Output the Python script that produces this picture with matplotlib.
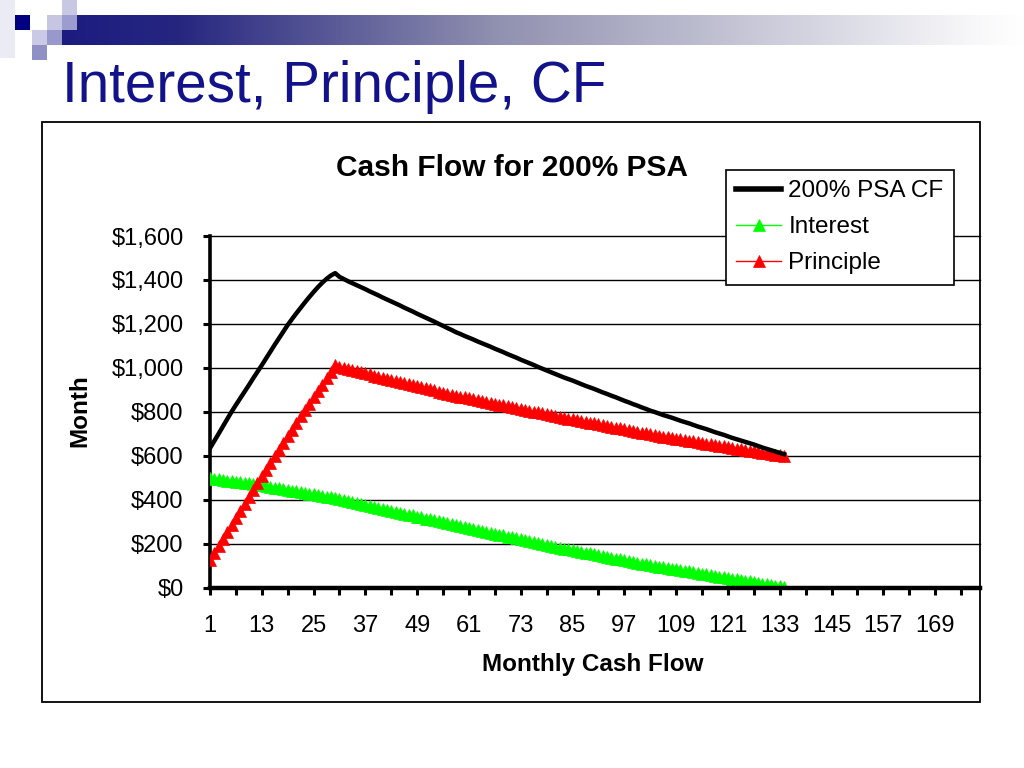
import matplotlib
matplotlib.use("Agg")
import matplotlib.pyplot as plt
from matplotlib.patches import Rectangle
from matplotlib.ticker import FuncFormatter, FixedLocator
import numpy as np

plt.rcParams["font.family"] = ["Liberation Sans", "DejaVu Sans"]

# ---------------------------------------------------------------------------
# Data ($ per month)
# ---------------------------------------------------------------------------
cash_flow = [
    634, 667, 700, 734, 767, 800, 831, 861, 891, 921, 952, 982, 1012, 1043, 1074,
    1105, 1135, 1165, 1195, 1222, 1248, 1273, 1298, 1322, 1345, 1367, 1387, 1405, 1420, 1431,
    1414, 1404, 1394, 1385, 1376, 1367, 1358, 1348, 1339, 1330, 1320, 1311, 1302, 1293,
    1284, 1274, 1265, 1256, 1246, 1237, 1228, 1219, 1210, 1200, 1191, 1181, 1172,
    1162, 1154, 1145, 1137, 1129, 1120, 1112, 1104, 1096, 1087, 1079, 1071, 1062, 1054,
    1046, 1037, 1029, 1021, 1013, 1004, 996, 988, 980, 972,
    964, 956, 949, 942, 934, 926, 918, 911, 904, 896, 888, 881, 873, 866, 858, 850,
    843, 835, 828, 820, 813, 805,
    799, 792, 785, 779, 773, 766, 759, 753, 747, 740, 733, 727, 721, 714, 707, 701,
    695, 688, 681, 675,
    669, 663, 657, 651, 644, 637, 631, 625, 619, 613, 607,
]
interest = [
    497, 495, 492, 490, 487, 485, 482, 480, 477, 474, 472, 469, 466, 462, 459,
    455, 452, 448, 445, 441, 438, 434, 431, 427, 424, 420, 417, 413, 410, 406,
    402, 398, 393, 389, 385, 380, 376, 371, 367, 363, 358, 354, 349, 345, 341,
    336, 332, 328, 323, 319, 314, 310, 306, 301, 297, 292, 288,
    284, 280, 275, 271, 267, 262, 258, 254, 250, 245, 241, 237, 232, 228, 224,
    219, 215, 211, 207, 202, 198, 194, 189, 185,
    181, 177, 174, 170, 166, 162, 158, 155, 151, 147, 143, 140, 136, 132, 128,
    124, 121, 117, 113, 109, 106, 102,
    99, 95, 92, 89, 86, 82, 79, 76, 73, 69, 66, 63, 60, 56, 53, 50, 47, 43, 40, 37,
    34, 31, 28, 25, 22, 18, 15, 12, 9, 6, 3,
]
principle = [
    125, 157, 189, 221, 253, 285, 317, 349, 381, 413, 445, 475, 506, 536, 567,
    597, 628, 658, 689, 719, 750, 779, 808, 837, 866, 895, 924, 953, 982, 1011,
    1004, 999, 994, 989, 985, 980, 975, 970, 965, 960, 955, 950, 946, 941, 936,
    931, 926, 921, 916, 911, 907, 902, 897, 892, 887, 882, 877,
    873, 869, 865, 861, 857, 853, 849, 845, 841, 837, 833, 829, 825, 821, 817,
    813, 809, 805, 801, 797, 793, 789, 785, 781,
    777, 773, 769, 766, 762, 758, 754, 750, 747, 743, 739, 735, 731, 728, 724,
    720, 716, 712, 709, 705, 701, 697,
    694, 691, 687, 684, 681, 678, 674, 671, 668, 665, 661, 658, 655, 652, 648,
    645, 642, 639, 635, 632,
    629, 626, 623, 620, 616, 613, 610, 607, 604, 601, 598,
]
months = list(range(1, len(cash_flow) + 1))

x_labels = [1, 13, 25, 37, 49, 61, 73, 85, 97, 109, 121, 133, 145, 157, 169]
x_minor = [7, 19, 31, 43, 55, 67, 79, 91, 103, 115, 127, 139, 151, 163, 175]
y_ticks = [0, 200, 400, 600, 800, 1000, 1200, 1400, 1600]

NAVY = "#12128a"

# ---------------------------------------------------------------------------
# Figure + slide decoration (pixel coordinates)
# ---------------------------------------------------------------------------
fig = plt.figure(figsize=(10.24, 7.68), dpi=100)
bg = fig.add_axes([0, 0, 1, 1], zorder=0)
bg.set_xlim(0, 1024)
bg.set_ylim(768, 0)
bg.axis("off")

# gradient bar: navy -> greyish lavender -> white
stops = np.array([0.0, 0.12, 0.45, 0.95, 1.0])
cols = np.array([[0x1c, 0x1c, 0x80], [0x26, 0x26, 0x80], [0x90, 0x90, 0xb0],
                 [0xf8, 0xf8, 0xfa], [0xff, 0xff, 0xff]]) / 255.0
g = np.linspace(0, 1, 512)
img = np.stack([np.interp(g, stops, cols[:, k]) for k in range(3)], axis=1)
bg.imshow(img[None, :, :], extent=(62, 1024, 45, 15), aspect="auto", zorder=1)

squares = [
    (0, 0, 15, 58, "#ebebf5"),
    (15, 15, 15, 15, "#000080"),
    (62, 0, 15, 15, "#c8c8e2"),
    (47, 15, 15, 15, "#c6c6e2"),
    (62, 15, 15, 15, "#9c9cce"),
    (32, 30, 15, 15, "#cacae6"),
    (47, 30, 15, 15, "#9898ca"),
    (32, 45, 15, 15, "#9090c4"),
]
for x, y, w, h, c in squares:
    bg.add_patch(Rectangle((x, y), w, h, facecolor=c, edgecolor="none", zorder=2))

# chart border
bg.add_patch(Rectangle((42, 122), 938, 580, facecolor="none", edgecolor="black",
                       linewidth=1.3, zorder=2))

fig.text(62 / 1024, 1 - 102 / 768, "Interest, Principle, CF", fontsize=40.8,
         color=NAVY, ha="left", va="baseline")

# ---------------------------------------------------------------------------
# Chart
# ---------------------------------------------------------------------------
ax = fig.add_axes([210 / 1024, 1 - 587.5 / 768, (980 - 210) / 1024, (587.5 - 236) / 768],
                  zorder=3)
ax.patch.set_alpha(0)

ax.plot(months, interest, color="#00ff00", lw=1.0, marker="^", ms=8,
        mec="#00ff00", mew=0.5, label="Interest", zorder=3)
ax.plot(months, principle, color="#ff0000", lw=1.0, marker="^", ms=8,
        mec="#ff0000", mew=0.5, label="Principle", zorder=4)
ax.plot(months, cash_flow, color="black", lw=3.2, label="200% PSA CF", zorder=5,
        solid_joinstyle="round")

ax.set_xlim(1, 179.4)
ax.set_ylim(0, 1600)

ax.xaxis.set_major_locator(FixedLocator(x_labels))
ax.xaxis.set_minor_locator(FixedLocator(x_minor))
ax.yaxis.set_major_locator(FixedLocator(y_ticks))
ax.yaxis.set_major_formatter(FuncFormatter(lambda v, p: f"${v:,.0f}"))

ax.tick_params(axis="x", which="both", direction="out", length=5, width=2.2,
               labelsize=17, pad=15)
ax.tick_params(axis="y", direction="out", length=5, width=2.2, labelsize=17, pad=14)

ax.grid(axis="y", color="black", lw=1.0)
for gl in ax.get_ygridlines():
    gl.set_clip_on(False)
ax.set_axisbelow(True)

for s in ("top", "right"):
    ax.spines[s].set_visible(False)
ax.spines["left"].set_linewidth(2.6)
ax.spines["bottom"].set_linewidth(3.2)
ax.spines["bottom"].set_zorder(6)

fig.text(512 / 1024, 1 - 168 / 768, "Cash Flow for 200% PSA", fontsize=21.5,
         fontweight="bold", ha="center", va="center")
fig.text(593 / 1024, 1 - 664 / 768, "Monthly Cash Flow", fontsize=17.5,
         fontweight="bold", ha="center", va="center")
fig.text(80 / 1024, 1 - 411 / 768, "Month", fontsize=17.5, fontweight="bold",
         rotation=90, ha="center", va="center")

h, l = ax.get_legend_handles_labels()
order = [2, 0, 1]
leg = fig.legend([h[i] for i in order], [l[i] for i in order],
                 loc="upper left", bbox_to_anchor=(726 / 1024, 1 - 170 / 768),
                 bbox_transform=fig.transFigure, fontsize=17.5, frameon=True,
                 fancybox=False, framealpha=1, edgecolor="black",
                 handlelength=1.85, handletextpad=0.3, borderpad=0.42,
                 labelspacing=0.58, borderaxespad=0)
leg.get_frame().set_linewidth(1.2)
leg.legend_handles[0].set_linewidth(4)
leg.set_zorder(10)

plt.savefig("out.png", dpi=100)
